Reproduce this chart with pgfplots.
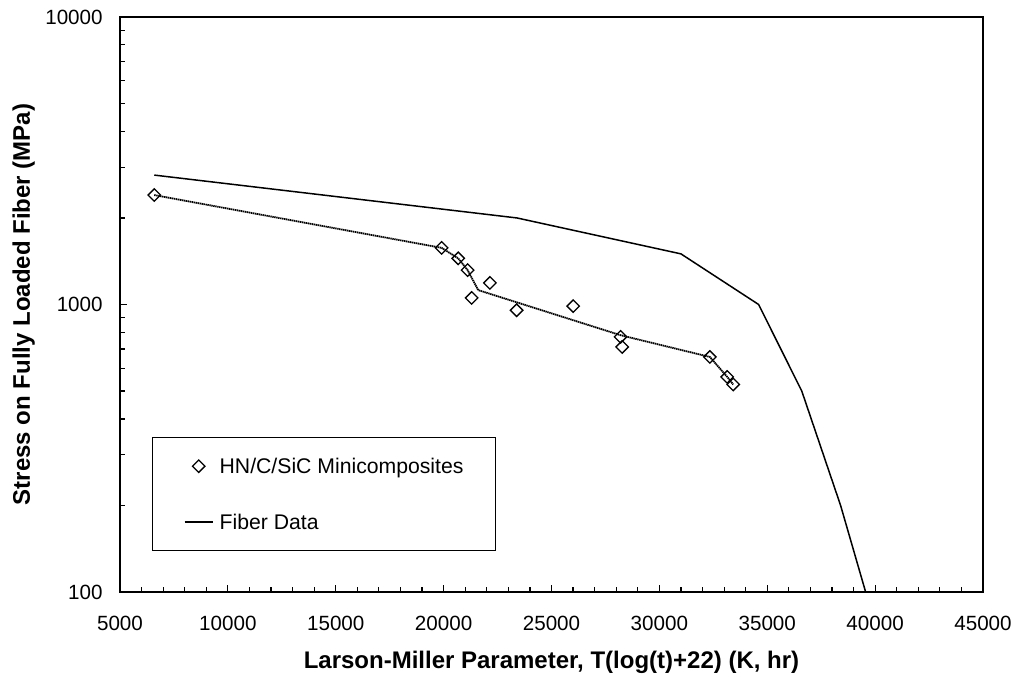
\documentclass[border=0pt]{standalone}
\usepackage{fontspec}
\setmainfont{Liberation Sans}
\usepackage{pgfplots}
\pgfplotsset{compat=1.18}
\pgfplotsset{
  diamleg/.style={legend image code/.code={\draw[mark repeat=2, mark phase=2, ##1] plot coordinates {(0pt,0pt) (7.1pt,0pt) (14.2pt,0pt)};}},
  lineleg/.style={legend image code/.code={\draw[##1] (0pt,0pt) -- (14.2pt,0pt);}},
}
\begin{document}
\begin{tikzpicture}
\useasboundingbox (-60pt,-42pt) rectangle (448pt,296pt);
\begin{axis}[
  at={(0pt,0pt)}, anchor=south west,
  scale only axis,
  width=431.5pt, height=287.5pt,
  xmin=5000, xmax=45000,
  ymin=100, ymax=10000,
  ymode=log,
  axis line style={line width=0.6pt},
  tick style={line width=0.6pt, black},
  tick pos=left,
  tick align=inside,
  major tick length=3.5pt,
  minor tick length=2.4pt,
  xtick={5000,10000,15000,20000,25000,30000,35000,40000,45000},
  xticklabels={5000,10000,15000,20000,25000,30000,35000,40000,45000},
  minor x tick num=4,
  ytick={100,1000,10000},
  yticklabels={100,1000,10000},
  ticklabel style={font=\fontsize{10.3}{12}\selectfont},
  xticklabel style={anchor=center, yshift=-15.5pt},
  yticklabel style={anchor=east, inner sep=0pt, xshift=-8.5pt},
  xlabel={Larson-Miller Parameter, T(log(t)+22) (K, hr)},
  ylabel={Stress on Fully Loaded Fiber (MPa)},
  label style={font=\fontsize{12}{14}\selectfont\bfseries},
  xlabel style={at={(axis description cs:0.5,-0.1325)}, anchor=base},
  ylabel style={at={(axis description cs:-0.1043,0.5)}, anchor=base},
  legend cell align=left,
  legend style={at={(axis description cs:0.0367,0.269)}, anchor=north west,
    draw=black, line width=0.5pt,
    inner xsep=15.8pt, inner ysep=10.35pt,
    row sep=20.3pt, column sep=3pt,
    font=\fontsize{10.6}{12}\selectfont,
    nodes={inner sep=0pt, text height=7.7pt, text depth=0pt}},
  clip=true,
]
% trend line through minicomposite data
\addplot[forget plot, black, line width=0.9pt, dash pattern=on 0.7pt off 0.3pt] coordinates {
  (6589,2402) (19908,1574) (20677,1447) (21112,1317) (21604,1122)
  (28202,782) (32341,657) (33143,560) (33421,527)
};
% HN/C/SiC minicomposites
\addplot[only marks, black, mark=square, mark size=2.2pt,
  mark options={rotate=45, line width=0.65pt, fill=none}, diamleg
] coordinates {
  (6589,2402) (19908,1574) (20677,1447) (21112,1317) (22146,1189)
  (21298,1054) (23383,955) (26006,987) (28202,772) (28277,712)
  (32341,657) (33143,560) (33421,527)
};
\addlegendentry{HN/C/SiC Minicomposites}
% Fiber data
\addplot[black, line width=0.75pt, mark=none, lineleg] coordinates {
  (6589,2819) (23400,2000) (31000,1500) (34600,1000) (36600,500) (38400,200) (39560,100)
};
\addlegendentry{Fiber Data}
\end{axis}
\end{tikzpicture}
\end{document}
